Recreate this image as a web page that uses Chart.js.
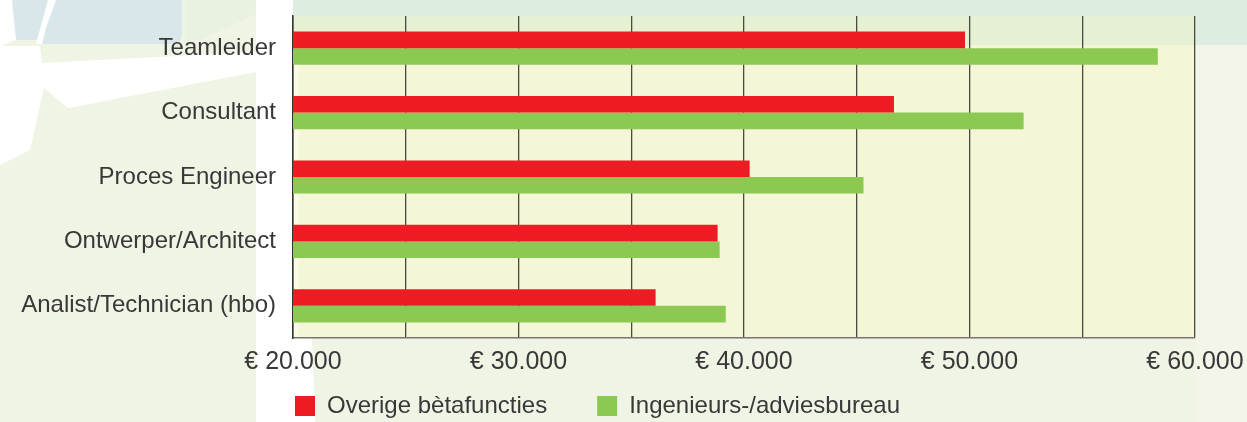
<!DOCTYPE html>
<html><head><meta charset="utf-8">
<script src="https://cdn.jsdelivr.net/npm/chart.js@4/dist/chart.umd.min.js"></script>
<style>
html,body{margin:0;padding:0;background:#EFF4E5;}
#wrap{position:relative;width:1247px;height:422px;overflow:hidden;}
#bg{position:absolute;left:0;top:0;}
#c{position:absolute;left:0;top:0;}
</style></head><body>
<div id="wrap">
<svg id="bg" width="1247" height="422" xmlns="http://www.w3.org/2000/svg">
  <rect width="1247" height="422" fill="#EFF4E5"/>
  <rect x="293" y="0" width="954" height="45" fill="#DDEEE0"/>
  <rect x="1195" y="45" width="52" height="377" fill="#F2F5E7"/>
  <path d="M12 0 H182 V34 Q182 44 172 44 H42 L40 40 H12 Z" fill="#DAE7EA"/>
  <path d="M0 0 H12 L16 40 L0 46 Z" fill="#FFFFFF"/>
  <path d="M48 0 H56 L46 28 L42 44 L36 44 Z" fill="#FFFFFF"/>
  <path d="M0 46 H40 L42 63 L256 52 L256 72 L68 108 Q58 100 44 88 L30 150 L0 165 Z" fill="#FFFFFF"/>
  <path d="M185 0 H256 V14 L200 40 L185 40 Z" fill="#E9F2E0"/>
  <path d="M256 0 H293 V338 H312 L315 422 H256 Z" fill="#FFFFFF"/>
</svg>
<canvas id="c" width="1247" height="422"></canvas>
</div>
<script>
const categories = ['Teamleider', 'Consultant', 'Proces Engineer', 'Ontwerper/Architect', 'Analist/Technician (hbo)'];
const seriesNames = ['Overige bètafuncties', 'Ingenieurs-/adviesbureau'];
const overigeValues = [49800, 46650, 40250, 38830, 36080];
const ingenieursValues = [58350, 52400, 45300, 38920, 39190];
const tickLabels = ['€ 20.000', '€ 30.000', '€ 40.000', '€ 50.000', '€ 60.000'];

const FONT = "'Liberation Sans', Arial, sans-serif";
const TEXT = '#383838';

const plotBg = {
  id: 'plotBg',
  beforeDraw(chart) {
    const {ctx, chartArea: a} = chart;
    ctx.save();
    ctx.fillStyle = '#F5F6D8';
    ctx.fillRect(a.left, a.top, a.right - a.left, a.bottom - a.top);
    ctx.fillStyle = '#E6F0D3';
    ctx.fillRect(a.left, a.top, a.right - a.left, 45 - a.top);
    ctx.fillStyle = '#FCFBE6';
    ctx.fillRect(a.left, 45, 6, a.bottom - 45);
    ctx.restore();
  }
};

new Chart(document.getElementById('c'), {
  type: 'bar',
  data: {
    labels: categories,
    datasets: [
      { label: seriesNames[0], data: overigeValues, backgroundColor: '#ED1C24', borderWidth: 0 },
      { label: seriesNames[1], data: ingenieursValues, backgroundColor: '#8DC852', borderWidth: 0 }
    ]
  },
  options: {
    indexAxis: 'y',
    responsive: false,
    animation: false,
    devicePixelRatio: 1,
    categoryPercentage: 0.515,
    barPercentage: 1.0,
    layout: { padding: { top: 16, right: 52, bottom: -6, left: 0 } },
    scales: {
      x: {
        min: 20000, max: 60000,
        afterFit(scale) { scale.height = 6; },
        grid: { display: true, color: '#4a4a42', lineWidth: 1.3, drawTicks: false },
        border: { display: true, color: '#77776e', width: 1.5 },
        ticks: {
          stepSize: 5000, autoSkip: false, maxRotation: 0, mirror: true, padding: -39,
          color: TEXT, font: { family: FONT, size: 25 },
          callback(value, index) { return index % 2 === 0 ? tickLabels[index / 2] : ''; }
        }
      },
      y: {
        afterFit(scale) { scale.width = 293; scale.paddingTop = 0; scale.paddingBottom = 0; },
        grid: { display: false, drawTicks: false },
        border: { display: true, color: '#333333', width: 1.5 },
        ticks: { padding: 17, color: TEXT, font: { family: FONT, size: 24 } }
      }
    },
    plugins: {
      legend: {
        position: 'bottom',
        align: 'center',
        labels: { boxWidth: 20, boxHeight: 20, padding: 50, color: TEXT, font: { family: FONT, size: 24 } }
      },
      tooltip: { enabled: false }
    }
  },
  plugins: [plotBg]
});
</script>
</body></html>
